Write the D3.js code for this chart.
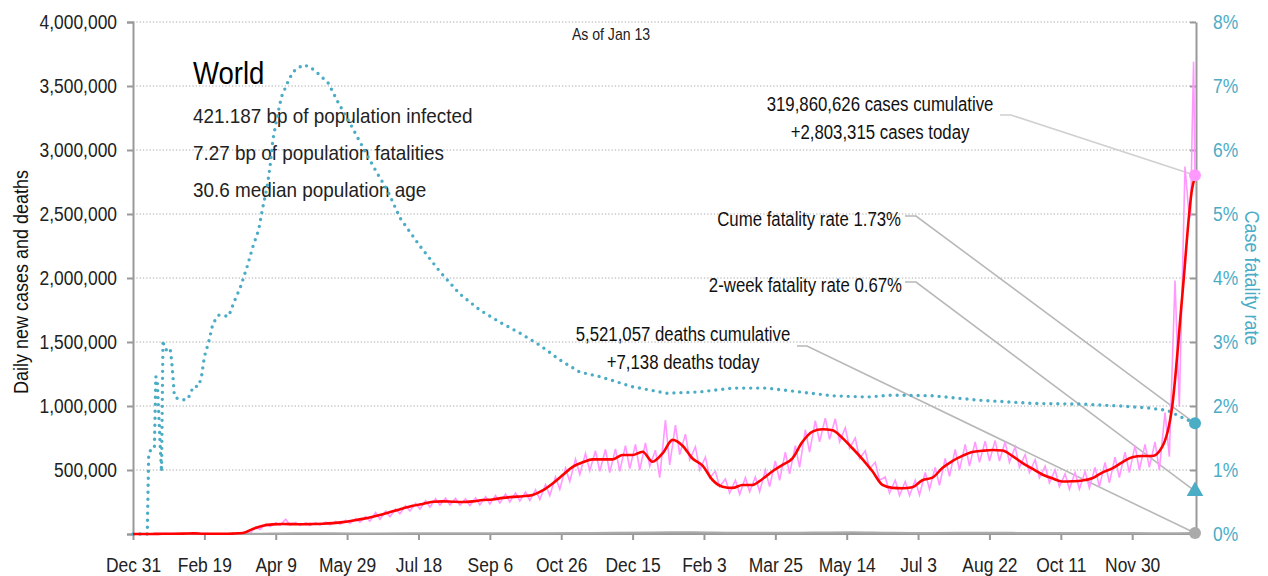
<!DOCTYPE html>
<html>
<head>
<meta charset="utf-8">
<script src="https://cdn.jsdelivr.net/npm/d3@7"></script>
<style>
body { margin: 0; background: #fff; }
text { font-family: "Liberation Sans", Arial, sans-serif; }
</style>
</head>
<body>
<svg id="chart" width="1268" height="576"></svg>
<script>
// values, cases/deaths in thousands, CFR in percent

// 7-day average of new cases, one value per week starting Dec 31 2019 (week 0..106)
const casesAvg = [0,0,0.5,2,2.5,3,5,2,1.5,1.5,
  3,8,40,65,75,78,77,76,78,80,
  85,93,105,118,135,155,178,200,220,235,
  252,255,252,250,255,265,270,282,290,295,
  305,340,395,460,525,560,583,583,583,617,
  617,643,565,630,735,690,590,535,422,370,
  360,383,383,430,490,540,591,720,800,818,
  810,750,670,585,490,383,360,357,365,420,
  440,515,570,610,640,650,656,652,610,555,
  510,465,435,410,412,418,435,480,513,560,
  600,609,609,680,995,1850,2700];
const casesAvgLast = 2790;

// daily new cases: weekly peak and weekly trough (week 0..105)
const casesHigh = [0,0,1,3,4,4,12,3,2,2,
  5,14,55,78,88,115,90,86,88,92,
  98,108,120,135,168,178,195,220,240,260,
  275,280,278,275,282,292,300,312,320,328,
  345,385,445,515,585,630,650,660,665,690,
  700,712,655,890,850,780,680,600,490,430,
  420,440,445,500,570,640,690,815,885,905,
  900,830,750,650,560,445,420,410,420,480,
  520,590,660,700,720,725,730,720,680,620,
  580,530,500,470,480,490,520,560,600,640,
  690,700,720,950,1980,2870];
const casesLow = [0,0,0,1.5,2,2,2,1,1,1,
  2,5,35,58,68,70,68,68,70,72,
  76,82,92,100,115,135,158,180,195,210,
  225,228,225,222,228,235,242,250,258,262,
  270,300,350,410,465,495,490,480,490,510,
  500,530,440,540,620,580,500,440,370,320,
  310,330,330,370,420,470,520,640,720,740,
  720,670,590,510,420,320,300,300,305,350,
  380,450,500,530,560,570,570,560,520,480,
  440,400,370,350,350,360,370,400,440,480,
  500,520,500,604,995,2470];
// last days, Jan 10 .. Jan 13 2022
const casesTailDays = [741,742,743,744];
const casesTail = [2500,3150,3690,2803.315];

// daily deaths every 4 weeks, plus today
const deaths = [0,0.05,0.1,1.5,6.5,5,4.5,5.3,5.8,5.5,5.5,7,10,11.5,14,10,9,11.5,13,9,8.5,10,9,7,7,7,6.5];
const deathsToday = 7.138;

// case fatality rate (cumulative), by day since Dec 31 2019
const cfrDay = [0,5,10,11,12,14,15,16,17,18,
  19,20,21,22,24,26,27,28,29,31,
  37,40,42,46,48,50,53,56,60,67,
  70,72,75,80,84,88,91,94,96,98,
  101,104,108,112,119,124,131,137,144,150,
  157,164,171,178,184,187,201,215,229,243,
  257,271,285,299,313,327,350,374,397,420,
  444,467,490,514,532,560,593,631,664,692,
  711,725,734,744];
const cfrPct = [0,0,0,1.25,1.3,1.31,1.35,2.46,2.4,1.9,
  1.4,0.97,3.03,2.9,2.87,2.9,2.72,2.46,2.15,2.12,
  2.09,2.17,2.3,2.31,2.46,2.77,3.0,3.29,3.42,3.4,
  3.58,3.69,3.84,4.18,4.49,4.75,5.11,5.43,5.74,6.16,
  6.52,6.83,7.04,7.22,7.33,7.30,7.17,7.04,6.73,6.5,
  6.21,5.92,5.64,5.38,5.09,4.94,4.5,4.1,3.75,3.5,
  3.31,3.14,2.95,2.72,2.53,2.46,2.30,2.20,2.22,2.28,
  2.28,2.22,2.16,2.14,2.17,2.16,2.09,2.04,2.03,2.0,
  1.97,1.93,1.83,1.73];
const cfr2week = 0.67;

const tickDays = [0,50,100,150,200,250,300,350,400,450,500,550,600,650,700];
const leftTicks = [0,500000,1000000,1500000,2000000,2500000,3000000,3500000,4000000];
const rightTicks = [0,1,2,3,4,5,6,7,8];

const infoLines = ["421.187 bp of population infected", "7.27 bp of population fatalities", "30.6 median population age"];

const teal = "#4bacc6", pink = "#ff99ff", red = "#ff0000", grey = "#aaaaaa";

const svg = d3.select("#chart");
const start = new Date(2019, 11, 31);
const lastDay = 744;
const dayDate = d => d3.timeDay.offset(start, d);

const x = d3.scaleTime().domain([start, dayDate(lastDay)]).range([133, 1195]);
const y = d3.scaleLinear().domain([0, 4000000]).range([534, 22]);
const yR = d3.scaleLinear().domain([0, 8]).range([534, 22]);
const xRight = 1196;

// the original uses a condensed face; squeeze Liberation Sans sideways
function narrowText(g, px, py, s, extra) {
  return g.append("text")
    .attr("transform", `translate(${px},${py}) ${extra || ""} scale(${s},1)`);
}

// grid
svg.append("g").selectAll("line")
  .data(leftTicks.filter(d => d > 0))
  .join("line")
  .attr("x1", 133).attr("x2", xRight)
  .attr("y1", d => y(d)).attr("y2", d => y(d))
  .attr("stroke", "#aaa").attr("stroke-width", 1)
  .attr("stroke-dasharray", "1.3 2");

// axes
let leftAxis = svg.append("g").attr("transform", "translate(133,0)")
  .call(d3.axisLeft(y).tickValues(leftTicks).tickSizeOuter(0).tickSize(6).tickPadding(10)
    .tickFormat(d => d === 0 ? "" : d3.format(",")(d)));
let bottomAxis = svg.append("g").attr("transform", "translate(0,534)")
  .call(d3.axisBottom(x).tickValues(tickDays.map(dayDate)).tickSizeOuter(0).tickSize(6).tickPadding(17)
    .tickFormat(d3.timeFormat("%b %-d")));
let rightAxis = svg.append("g").attr("transform", `translate(${xRight},0)`)
  .call(d3.axisRight(yR).tickValues(rightTicks).tickSizeOuter(0).tickSizeInner(-6).tickPadding(17)
    .tickFormat(d => d + "%"));

const tickSqueeze = 0.83;
[leftAxis, bottomAxis, rightAxis].forEach(a => {
  a.select(".domain").attr("stroke", "#999").attr("stroke-width", 2);
  a.selectAll(".tick line").attr("stroke", "#999").attr("stroke-width", 2);
  a.selectAll(".tick text")
    .attr("font-family", "Liberation Sans, Arial, sans-serif")
    .attr("font-size", 21).attr("fill", "#222")
    .attr("x", function() { return (+this.getAttribute("x") || 0) / tickSqueeze; })
    .attr("transform", `scale(${tickSqueeze},1)`);
});
bottomAxis.select(".domain").attr("d", `M133,0H${xRight}`);
rightAxis.selectAll(".tick text").attr("fill", teal);

narrowText(svg, 28, 282, 0.9, "rotate(-90)")
  .attr("text-anchor", "middle").attr("font-size", 20).attr("fill", "#111")
  .text("Daily new cases and deaths");
narrowText(svg, 1245, 278, 0.9, "rotate(90)")
  .attr("text-anchor", "middle").attr("font-size", 20).attr("fill", teal)
  .text("Case fatality rate");

// title block
narrowText(svg, 611, 40, 0.88, "").attr("text-anchor", "middle")
  .attr("font-size", 16).attr("fill", "#222").text("As of Jan 13");
narrowText(svg, 193, 84, 0.86, "").attr("font-size", 32).attr("fill", "#000").text("World");
infoLines.forEach((t, i) => {
  narrowText(svg, 193, 123 + i * 37, 0.9, "").attr("font-size", 21).attr("fill", "#222").text(t);
});

// leader lines (under the data)
const endX = x(dayDate(lastDay));
const leaders = [
  {pts: [[1000, 115], [1011, 115], [endX, y(casesTail[casesTail.length - 1] * 1000)]], c: "#d0d0d0"},
  {pts: [[905, 216], [916, 216], [endX, yR(cfrPct[cfrPct.length - 1])]], c: "#b8b8b8"},
  {pts: [[905, 282], [916, 282], [endX, yR(cfr2week)]], c: "#b8b8b8"},
  {pts: [[797, 346], [807, 346], [endX, y(deathsToday * 1000)]], c: "#b8b8b8"}
];
svg.append("g").selectAll("path")
  .data(leaders)
  .join("path")
  .attr("d", d => d3.line()(d.pts))
  .attr("fill", "none").attr("stroke", d => d.c).attr("stroke-width", 1.6);

// case fatality rate, dotted
let cfrData = cfrDay.map((d, i) => [d, cfrPct[i]]);
svg.append("path")
  .datum(cfrData)
  .attr("fill", "none").attr("stroke", teal).attr("stroke-width", 3.4)
  .attr("stroke-linecap", "round").attr("stroke-dasharray", "0 7")
  .attr("d", d3.line().x(d => x(dayDate(d[0]))).y(d => yR(d[1])));

// daily cases, pink zigzag
let daily = [];
casesHigh.forEach((h, k) => {
  daily.push([7 * k + 2, h]);
  daily.push([7 * k + 5, casesLow[k]]);
});
casesTailDays.forEach((d, i) => daily.push([d, casesTail[i]]));
daily.unshift([0, 0]);
svg.append("path")
  .datum(daily)
  .attr("fill", "none").attr("stroke", pink).attr("stroke-width", 1.6)
  .attr("d", d3.line().x(d => x(dayDate(d[0]))).y(d => y(d[1] * 1000)));

// deaths, grey
let deathData = deaths.map((v, i) => [28 * i, v]);
deathData.push([lastDay, deathsToday]);
svg.append("path")
  .datum(deathData)
  .attr("fill", "none").attr("stroke", grey).attr("stroke-width", 2)
  .attr("d", d3.line().curve(d3.curveMonotoneX).x(d => x(dayDate(d[0]))).y(d => y(d[1] * 1000)));

// 7-day average, red
let avgData = casesAvg.map((v, k) => [7 * k, v]);
avgData.push([lastDay, casesAvgLast]);
svg.append("path")
  .datum(avgData)
  .attr("fill", "none").attr("stroke", red).attr("stroke-width", 2.6)
  .attr("stroke-linejoin", "round")
  .attr("d", d3.line().curve(d3.curveMonotoneX).x(d => x(dayDate(d[0]))).y(d => y(d[1] * 1000)));

// end markers
svg.append("circle").attr("cx", endX).attr("cy", y(casesTail[casesTail.length - 1] * 1000)).attr("r", 6).attr("fill", pink);
svg.append("circle").attr("cx", endX).attr("cy", yR(cfrPct[cfrPct.length - 1])).attr("r", 6).attr("fill", teal);
svg.append("path")
  .attr("transform", `translate(${endX},${yR(cfr2week)})`)
  .attr("d", d3.symbol(d3.symbolTriangle, 120)())
  .attr("fill", teal);
svg.append("circle").attr("cx", endX).attr("cy", y(deathsToday * 1000)).attr("r", 6).attr("fill", grey);

// annotations
const notes = [
  {t: "319,860,626 cases cumulative", x: 880, y: 111, a: "middle"},
  {t: "+2,803,315 cases today", x: 880, y: 139, a: "middle"},
  {t: "Cume fatality rate 1.73%", x: 901, y: 226, a: "end"},
  {t: "2-week fatality rate 0.67%", x: 902, y: 292, a: "end"},
  {t: "5,521,057 deaths cumulative", x: 683, y: 341, a: "middle"},
  {t: "+7,138 deaths today", x: 683, y: 369, a: "middle"}
];
notes.forEach(n => {
  narrowText(svg, n.x, n.y, 0.8, "")
    .attr("text-anchor", n.a).attr("font-size", 21).attr("fill", "#111")
    .text(n.t);
});
</script>
</body>
</html>
